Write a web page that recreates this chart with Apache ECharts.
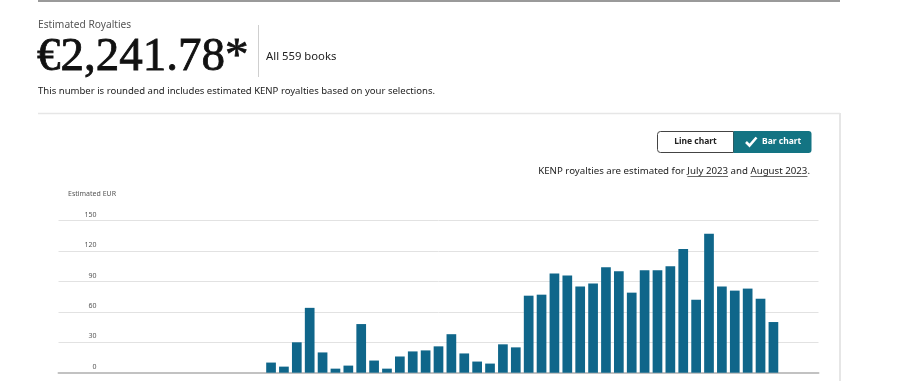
<!DOCTYPE html>
<html>
<head>
<meta charset="utf-8">
<script src="https://cdn.jsdelivr.net/npm/echarts@6/dist/echarts.min.js"></script>
<style>
html,body{margin:0;padding:0;background:#fff;}
#c{width:917px;height:381px;}
</style>
</head>
<body>
<div id="c"></div>
<script>
var categories = [
 '2019-01','2019-02','2019-03','2019-04','2019-05','2019-06','2019-07','2019-08','2019-09','2019-10','2019-11','2019-12',
 '2020-01','2020-02','2020-03','2020-04','2020-05','2020-06','2020-07','2020-08','2020-09','2020-10','2020-11','2020-12',
 '2021-01','2021-02','2021-03','2021-04','2021-05','2021-06','2021-07','2021-08','2021-09','2021-10','2021-11','2021-12',
 '2022-01','2022-02','2022-03','2022-04','2022-05','2022-06','2022-07','2022-08','2022-09','2022-10','2022-11','2022-12',
 '2023-01','2023-02','2023-03','2023-04','2023-05','2023-06','2023-07','2023-08','2023-09','2023-10','2023-11'
];
var royaltiesEUR = [
 0,0,0,0,0,0,0,0,0,0,0,0,
 0,0,0,0,10,6,30,64,20,4,7,48,
 12,4,16,21,22,26,38,19,11,9,28,25,
 76,77,98,96,85,88,104,100,79,101,101,105,
 122,72,137,85,81,83,73,50,null,null,null
];
var yTicks = [0, 30, 60, 90, 120, 150];

var FONT = '"Noto Sans", "Open Sans", sans-serif';
var chart = echarts.init(document.getElementById('c'), null, {renderer: 'canvas'});

var mctx = document.createElement('canvas').getContext('2d');
function measure(s, size) { mctx.font = size + 'px ' + FONT; return mctx.measureText(s).width; }

function txt(x, y, s, size, color, extra) {
  var st = {text: s, x: 0, y: 0, fontSize: size, fontFamily: FONT, fill: color, verticalAlign: 'middle', align: 'left'};
  if (extra) for (var k in extra) st[k] = extra[k];
  return {type: 'text', x: x, y: y, style: st, silent: true};
}
function line(x1, y1, x2, y2, color, w) {
  return {type: 'line', shape: {x1: x1, y1: y1, x2: x2, y2: y2}, style: {stroke: color, lineWidth: w}, silent: true};
}

// KENP note, right aligned at x=810, with underlined months
var kSize = 9.7;
var kParts = ['KENP royalties are estimated for ', 'July 2023', ' and ', 'August 2023', '.'];
var kFull = kParts.join('');
var kRight = 810;
var kLeft = kRight - measure(kFull, kSize);
var u1s = kLeft + measure(kParts[0], kSize);
var u1e = u1s + measure(kParts[1], kSize);
var u2s = kLeft + measure(kParts[0] + kParts[1] + kParts[2], kSize);
var u2e = u2s + measure(kParts[3], kSize);

var graphics = [
  line(38, 1, 840, 1, '#9a9a9a', 2),
  txt(38, 25, 'Estimated Royalties', 10.2, '#555'),
  txt(37, 57.5, '€2,241.78*', 47, '#111', {fontFamily: '"Liberation Serif", "DejaVu Serif", serif', stroke: '#111', lineWidth: 0.8}),
  line(258.5, 25, 258.5, 77, '#cfcfcf', 1),
  txt(266, 56.5, 'All 559 books', 11.3, '#222'),
  txt(38, 91, 'This number is rounded and includes estimated KENP royalties based on your selections.', 9.55, '#222'),
  line(38, 113.5, 840, 113.5, '#e6e6e6', 1.5),
  line(840, 113, 840, 381, '#e6e6e6', 2),
  {type: 'rect', shape: {x: 657.5, y: 131.5, width: 76, height: 21, r: [3, 0, 0, 3]}, style: {fill: '#fff', stroke: '#444', lineWidth: 1}, silent: true},
  {type: 'rect', shape: {x: 733.5, y: 131, width: 78, height: 22, r: [0, 3, 3, 0]}, style: {fill: '#137483'}, silent: true},
  txt(695.5, 142, 'Line chart', 8.5, '#222', {align: 'center', fontWeight: 'bold'}),
  {type: 'polyline', shape: {points: [[746, 142], [749.5, 145.5], [756.5, 137.5]]}, style: {stroke: '#fff', lineWidth: 2.6, fill: null}, silent: true},
  txt(762, 142, 'Bar chart', 8.5, '#fff', {fontWeight: 'bold'}),
  txt(kLeft, 171, kFull, kSize, '#222'),
  line(u1s, 176.5, u1e, 176.5, '#444', 0.8),
  line(u2s, 176.5, u2e, 176.5, '#444', 0.8),
  txt(68, 193.5, 'Estimated EUR', 7, '#555')
];

chart.setOption({
  animation: false,
  grid: {left: 58.5, right: 98.5, top: 220.7, bottom: 8.3, containLabel: false},
  xAxis: {
    type: 'category',
    data: categories,
    axisLine: {show: true, lineStyle: {color: '#c2c2c2', width: 2}},
    axisTick: {show: false},
    axisLabel: {show: false},
    splitLine: {show: false}
  },
  yAxis: {
    type: 'value',
    min: 0, max: 150, interval: 30,
    axisLine: {show: false},
    axisTick: {show: false},
    splitLine: {show: true, lineStyle: {color: '#e2e2e2', width: 1}},
    axisLabel: {
      inside: true, margin: 38, align: 'right', verticalAlign: 'bottom',
      lineHeight: 12, fontSize: 7, color: '#555', fontFamily: FONT,
      formatter: function (v) { return yTicks.indexOf(v) >= 0 ? String(v) : ''; }
    }
  },
  series: [{
    type: 'bar',
    data: royaltiesEUR,
    barWidth: 9.7,
    itemStyle: {color: '#0f668a'}
  }],
  graphic: graphics
});
</script>
</body>
</html>
